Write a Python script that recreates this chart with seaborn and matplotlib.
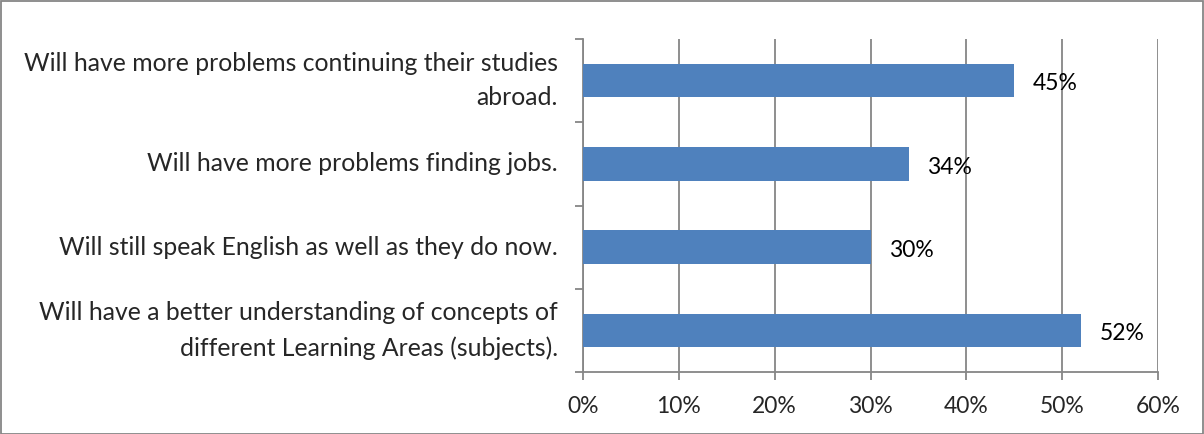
import matplotlib
matplotlib.use("Agg")
import matplotlib.pyplot as plt
import seaborn as sns
import pandas as pd
from matplotlib.patches import Rectangle

categories = [
    "Will have more problems continuing their studies\nabroad.",
    "Will have more problems finding jobs.",
    "Will still speak English as well as they do now.",
    "Will have a better understanding of concepts of\ndifferent Learning Areas (subjects).",
]
values = [45, 34, 30, 52]
xticks = [0, 10, 20, 30, 40, 50, 60]
xtick_labels = ["0%", "10%", "20%", "30%", "40%", "50%", "60%"]

sns.set_style("white")
plt.rcParams['font.family'] = ['Lato', 'DejaVu Sans']

df = pd.DataFrame({"cat": categories, "val": values})

fig = plt.figure(figsize=(12.04, 4.34), dpi=100)
ax = fig.add_axes([583/1204, 1 - 372/434, (1158-583)/1204, (372-39)/434])

sns.barplot(data=df, x="val", y="cat", orient="h", color="#4F81BD",
            saturation=1, width=0.4, ax=ax, zorder=3, linewidth=0)

ax.set_xlim(0, 60)
ax.set_xticks(xticks)
ax.set_xticklabels(xtick_labels, fontsize=16.5)
ax.set_xlabel("")
ax.set_ylabel("")
ax.grid(axis="x", color="#868686", linewidth=1.3, zorder=0)
ax.set_axisbelow(True)

for s in ["top", "right"]:
    ax.spines[s].set_visible(False)
for s in ["left", "bottom"]:
    ax.spines[s].set_color("#868686")
    ax.spines[s].set_linewidth(1.3)

# y ticks at category boundaries
ax.set_yticks([-0.5, 0.5, 1.5, 2.5, 3.5], minor=False)
ax.set_yticklabels([])
ax.set_yticks(range(len(categories)), minor=True)
ax.set_yticklabels(categories, minor=True, fontsize=17.8, ha="right", va="center", linespacing=1.6)
ax.set_ylim(3.5, -0.5)
ax.tick_params(axis="y", which="major", length=6, width=1.3, color="#868686", direction="out", left=True)
ax.tick_params(axis="y", which="minor", length=0, pad=18)
ax.tick_params(axis="x", length=6, width=1.3, color="#868686", direction="out", bottom=True, pad=11)

for i, v in enumerate(values):
    ax.text(v + 1.9, i + 0.04, f"{v}%", va="center", ha="left", fontsize=16.5, color="black")

fig.patches.append(Rectangle((0.5/1204, 0.5/434), 1 - 1.5/1204, 1 - 1.5/434,
                             transform=fig.transFigure, fill=False,
                             edgecolor="#868686", linewidth=1.3))

fig.savefig("out.png", dpi=100)
